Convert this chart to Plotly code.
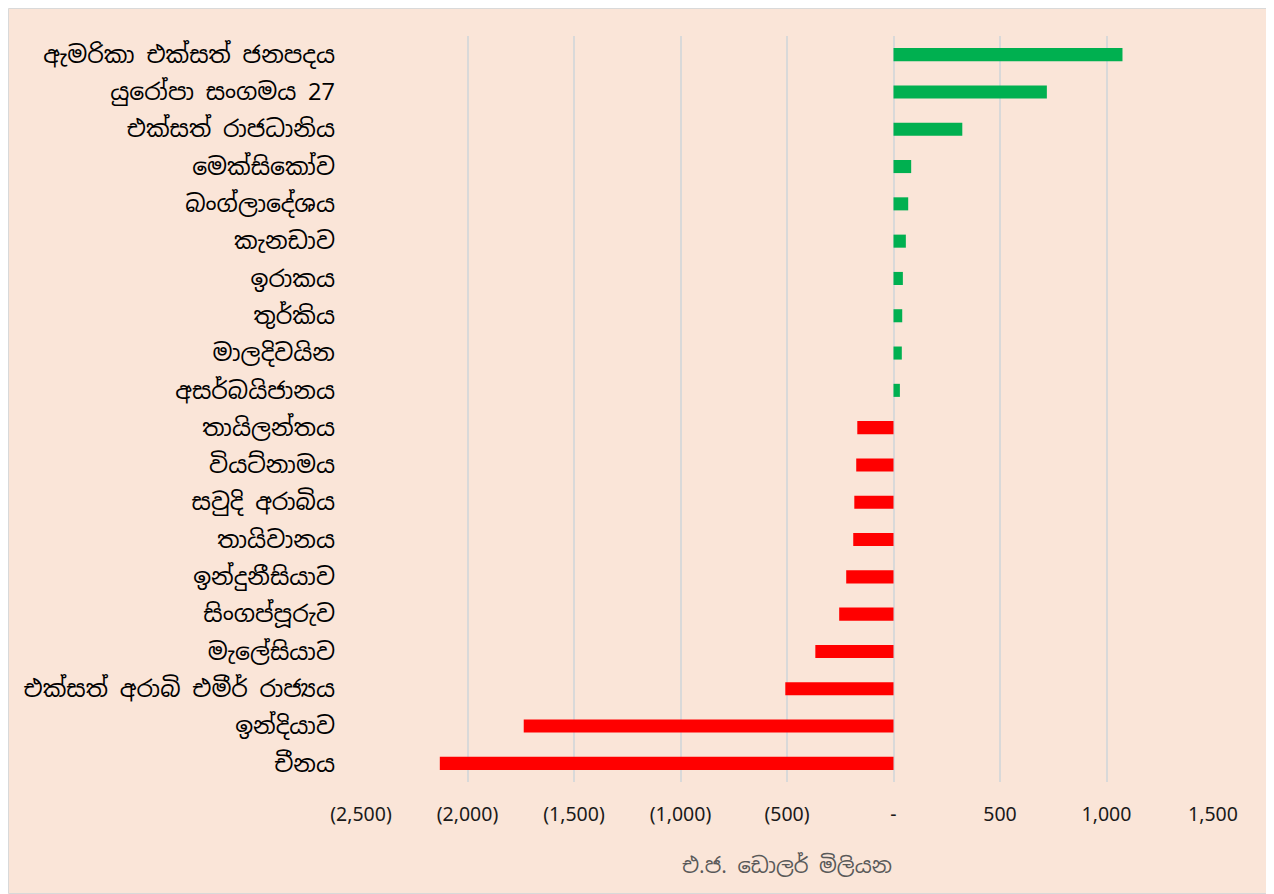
import plotly.graph_objects as go

countries = [
    "ඇමරිකා එක්සත් ජනපදය",
    "යුරෝපා සංගමය 27",
    "එක්සත් රාජධානිය",
    "මෙක්සිකෝව",
    "බංග්ලාදේශය",
    "කැනඩාව",
    "ඉරාකය",
    "තුර්කිය",
    "මාලදිවයින",
    "අසර්බයිජානය",
    "තායිලන්තය",
    "වියට්නාමය",
    "සවුදි අරාබිය",
    "තායිවානය",
    "ඉන්දුනීසියාව",
    "සිංගප්පූරුව",
    "මැලේසියාව",
    "එක්සත් අරාබි එමීර් රාජ්‍යය",
    "ඉන්දියාව",
    "චීනය",
]
values = [1075, 720, 323, 83, 69, 58, 44, 41, 39, 30,
          -170, -175, -184, -189, -222, -255, -367, -508, -1736, -2130]

tick_vals = [-2500, -2000, -1500, -1000, -500, 0, 500, 1000, 1500]
tick_text = ["(2,500)", "(2,000)", "(1,500)", "(1,000)", "(500)", "-", "500", "1,000", "1,500"]
x_title = "එ.ජ. ඩොලර් මිලියන"

colors = ["#00B050" if v >= 0 else "#FF0000" for v in values]

fig = go.Figure(go.Bar(
    y=countries, x=values, orientation="h",
    marker=dict(color=colors, line=dict(width=0)),
    hoverinfo="x+y",
))

# figure is placed at (8, 8) in the page by the default body margin
W, H = 1266, 886
L, T = 353, 28
pw, ph = 852, 746
R, B = W - L - pw, H - T - ph

fig.update_layout(
    width=W, height=H,
    margin=dict(l=L, r=R, t=T, b=B, pad=0),
    paper_bgcolor="white",
    plot_bgcolor="rgba(0,0,0,0)",
    bargap=0.65,
    showlegend=False,
    font=dict(family="Noto Sans Sinhala, Noto Sans, sans-serif", color="#000000"),
    shapes=[dict(
        type="rect", xref="paper", yref="paper", layer="below",
        x0=(0.5 - L) / pw, x1=(W - 0.5 - L) / pw,
        y0=((T + ph) - (H - 0.5)) / ph, y1=((T + ph) - 0.5) / ph,
        fillcolor="#FAE5D8", line=dict(color="#D9D9D9", width=1),
    )],
)
fig.update_xaxes(
    range=[-2500, 1500],
    tickvals=tick_vals, ticktext=tick_text,
    showgrid=True, gridcolor="#D9D9D9", gridwidth=1.5,
    zeroline=True, zerolinecolor="#D9D9D9", zerolinewidth=1.5,
    showline=False, ticks="",
    tickfont=dict(size=19.5, color="#1a1a1a", family="Segoe UI, Noto Sans, Open Sans, sans-serif"),
    ticklabelstandoff=18,
    title=dict(text=x_title, font=dict(size=21, color="#595959"), standoff=32),
)
fig.update_yaxes(
    categoryorder="array", categoryarray=countries, autorange="reversed",
    showgrid=False, showline=False, ticks="",
    tickfont=dict(size=23.5, color="#000000"),
    ticklabelstandoff=25,
)

fig.write_html("out.html")
